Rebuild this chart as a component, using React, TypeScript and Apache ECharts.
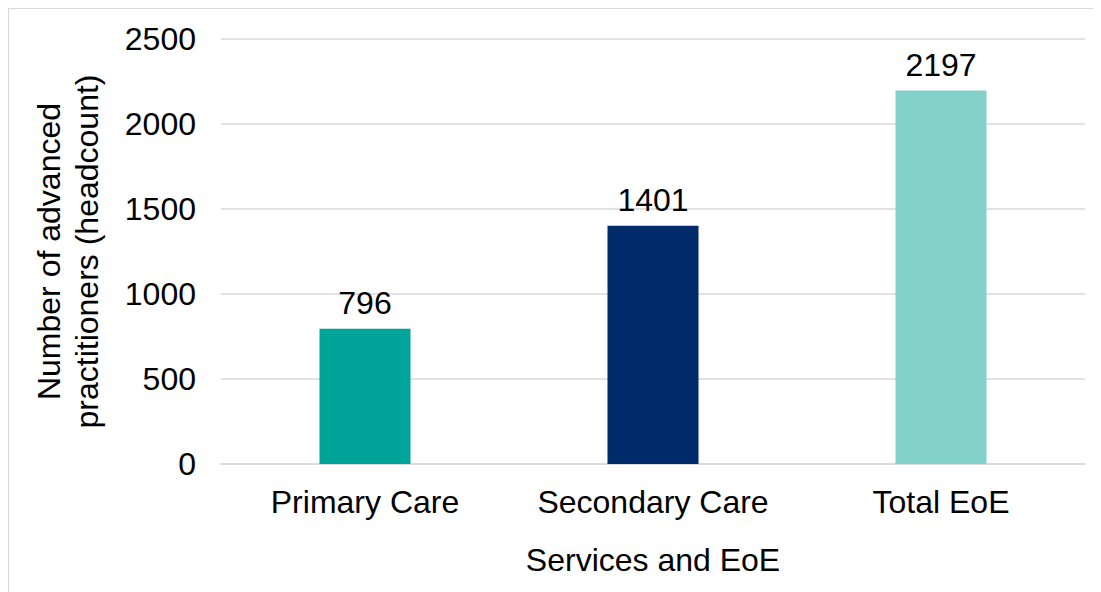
import React, { useEffect, useRef } from "react";
import * as echarts from "echarts";

const categories = ["Primary Care", "Secondary Care", "Total EoE"];
const values = [796, 1401, 2197];
const barColors = ["#00A499", "#002B6B", "#83D2CA"];
const yTicks = { min: 0, max: 2500, interval: 500 };
const xAxisTitle = "Services and EoE";
const yAxisTitle = "Number of advanced\npractitioners (headcount)";

export default function App() {
  const ref = useRef<HTMLDivElement>(null);
  useEffect(() => {
    if (!ref.current) return;
    const chart = echarts.init(ref.current, undefined, { renderer: "svg" });
    const font = "'Liberation Sans', Arial, sans-serif";
    const fs = 32;
    chart.setOption({
      animation: false,
      grid: { left: 212, right: 16, top: 30, bottom: 128, containLabel: false },
      xAxis: {
        type: "category",
        data: categories,
        axisLine: { show: true, lineStyle: { color: "#d9d9d9", width: 1.5 } },
        axisTick: { show: false },
        axisLabel: {
          color: "#000",
          fontSize: fs,
          fontFamily: font,
          margin: 22,
          interval: 0,
          hideOverlap: false,
        },
        name: xAxisTitle,
        nameLocation: "middle",
        nameGap: 80,
        nameTextStyle: { color: "#000", fontSize: fs, fontFamily: font },
      },
      yAxis: {
        type: "value",
        min: yTicks.min,
        max: yTicks.max,
        interval: yTicks.interval,
        axisLine: { show: false },
        axisTick: { show: false },
        splitLine: { lineStyle: { color: "#d9d9d9", width: 1.5 } },
        axisLabel: {
          color: "#000",
          fontSize: fs,
          fontFamily: font,
          margin: 25,
          formatter: (v: number) => String(v),
        },
        name: yAxisTitle,
        nameLocation: "middle",
        nameGap: 115,
        nameTextStyle: { color: "#000", fontSize: fs, fontFamily: font, lineHeight: 38 },
      },
      series: [
        {
          type: "bar",
          barWidth: "31.6%",
          data: values.map((v, i) => ({ value: v, itemStyle: { color: barColors[i] } })),
          label: {
            show: true,
            position: "top",
            distance: 10,
            color: "#000",
            fontSize: fs,
            fontFamily: font,
          },
        },
      ],
    });
    return () => chart.dispose();
  }, []);
  return (
    <div
      style={{
        width: 1093,
        height: 584,
        boxSizing: "border-box",
        borderTop: "1px solid #d9d9d9",
        borderLeft: "1px solid #d9d9d9",
      }}
    >
      <div ref={ref} style={{ width: 1092, height: 583 }} />
    </div>
  );
}
